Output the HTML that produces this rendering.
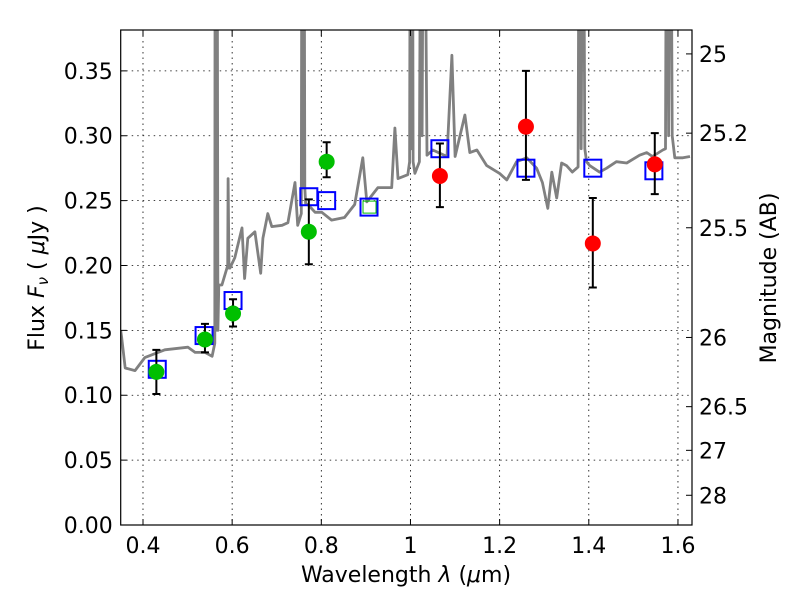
<!DOCTYPE html>
<html><head><meta charset="utf-8"><style>
html,body{margin:0;padding:0;background:#fff;}
svg{display:block;font-family:"DejaVu Sans","Liberation Sans",sans-serif;}
</style></head><body>
<svg id="chart" width="800" height="600" viewBox="0 0 800 600">
<rect width="800" height="600" fill="#fff"/>
<defs><clipPath id="clip"><rect x="120.7" y="30" width="571.3" height="495"/></clipPath></defs>
<g id="grid"></g>
<g id="plot" clip-path="url(#clip)"></g>
<rect x="120.7" y="30" width="571.3" height="495" fill="none" stroke="#000" stroke-width="1.2"/>
<g id="ticks"></g>
<text x="406" y="582" font-size="22" text-anchor="middle">Wavelength  <tspan font-style="italic">λ</tspan> (<tspan font-style="italic">μ</tspan>m)</text>
<text transform="translate(44,278) rotate(-90)" font-size="22" text-anchor="middle">Flux  <tspan font-style="italic">F<tspan font-size="15" dy="4">ν</tspan></tspan><tspan dy="-4">  ( </tspan><tspan font-style="italic">μ</tspan>Jy )</text>
<text transform="translate(776,278) rotate(-90)" font-size="22" text-anchor="middle">Magnitude (AB)</text>
</svg>
<script>
const xTicks=[0.4,0.6,0.8,1.0,1.2,1.4,1.6];
const xTickLabels=["0.4","0.6","0.8","1","1.2","1.4","1.6"];
const yTicks=[0,0.05,0.10,0.15,0.20,0.25,0.30,0.35];
const yTickLabels=["0.00","0.05","0.10","0.15","0.20","0.25","0.30","0.35"];
const magTicks=[25,25.2,25.5,26,26.5,27,28];
const magTickLabels=["25","25.2","25.5","26","26.5","27","28"];
const specWl=[0.350,0.352,0.360,0.382,0.404,0.449,0.501,0.517,0.539,0.555,0.561,0.562,0.564,0.566,0.568,0.570,0.577,0.590,0.591,0.593,0.595,0.606,0.622,0.628,0.635,0.651,0.664,0.669,0.680,0.689,0.712,0.725,0.741,0.747,0.755,0.757,0.759,0.761,0.763,0.765,0.770,0.786,0.801,0.823,0.852,0.875,0.893,0.902,0.927,0.958,0.965,0.972,0.994,0.998,1.000,1.002,1.004,1.006,1.010,1.020,1.024,1.026,1.030,1.037,1.050,1.082,1.093,1.100,1.122,1.133,1.149,1.171,1.200,1.216,1.238,1.261,1.283,1.296,1.308,1.317,1.328,1.339,1.350,1.363,1.376,1.379,1.383,1.387,1.391,1.395,1.402,1.424,1.440,1.462,1.485,1.514,1.530,1.543,1.566,1.572,1.575,1.579,1.583,1.587,1.593,1.611,1.627];
const specFlux=[0.150,0.145,0.121,0.119,0.129,0.135,0.137,0.133,0.133,0.130,0.140,0.6,0.15,0.6,0.15,0.185,0.185,0.200,0.267,0.198,0.198,0.206,0.229,0.190,0.221,0.226,0.194,0.221,0.240,0.230,0.231,0.233,0.264,0.231,0.240,0.6,0.26,0.6,0.26,0.247,0.247,0.241,0.241,0.235,0.237,0.247,0.283,0.249,0.260,0.260,0.306,0.267,0.270,0.280,0.6,0.29,0.6,0.28,0.271,0.280,0.6,0.30,0.6,0.285,0.289,0.284,0.362,0.284,0.316,0.287,0.289,0.277,0.271,0.266,0.280,0.283,0.275,0.264,0.244,0.272,0.252,0.279,0.277,0.272,0.276,0.6,0.29,0.6,0.29,0.28,0.277,0.272,0.275,0.280,0.279,0.285,0.287,0.284,0.289,0.290,0.6,0.30,0.6,0.30,0.283,0.283,0.284];
const greenWl=[0.430,0.539,0.602,0.772,0.812];
const greenFlux=[0.118,0.143,0.163,0.226,0.280];
const greenLo=[0.101,0.133,0.153,0.201,0.268];
const greenHi=[0.135,0.155,0.174,0.251,0.295];
const redWl=[1.066,1.259,1.409,1.548];
const redFlux=[0.269,0.307,0.217,0.278];
const redLo=[0.245,0.266,0.183,0.255];
const redHi=[0.294,0.350,0.252,0.302];
const modelWl=[0.432,0.537,0.602,0.772,0.812,0.907,1.066,1.259,1.409,1.546];
const modelFlux=[0.120,0.146,0.173,0.253,0.250,0.245,0.290,0.275,0.275,0.273];

const L=120.7,R=692,T=30,B=525,X0=0.35,X1=1.6315,Y0=0,Y1=0.3815;
const sx=v=>L+(v-X0)/(X1-X0)*(R-L);
const sy=v=>B-(v-Y0)/(Y1-Y0)*(B-T);
const magToFlux=m=>Math.pow(10,(23.9-m)/2.5);
const NS="http://www.w3.org/2000/svg";
function mk(tag,attrs,parent){const e=document.createElementNS(NS,tag);for(const k in attrs)e.setAttribute(k,attrs[k]);parent.appendChild(e);return e;}
const grid=document.getElementById('grid'),plot=document.getElementById('plot'),ticks=document.getElementById('ticks');

xTicks.forEach((v,i)=>{const x=sx(v);
 let g=mk('line',{x1:x,x2:x,y1:T,y2:B,stroke:'#000','stroke-width':0.8,'stroke-dasharray':'1.5,4'},grid);
 
 let t=mk('line',{x1:x,x2:x,y1:B,y2:B-6,stroke:'#000','stroke-width':1},ticks);
 
 let t2=mk('line',{x1:x,x2:x,y1:T,y2:T+6,stroke:'#000','stroke-width':1},ticks);
 
 let lb=mk('text',{x:x,y:B+28,'font-size':22,'text-anchor':'middle'},ticks);lb.textContent=xTickLabels[i];
 
});
yTicks.forEach((v,i)=>{const y=sy(v);
 let g=mk('line',{x1:L,x2:R,y1:y,y2:y,stroke:'#000','stroke-width':0.8,'stroke-dasharray':'1.5,4'},grid);
 
 let t=mk('line',{x1:L,x2:L+6,y1:y,y2:y,stroke:'#000','stroke-width':1},ticks);
 
 let lb=mk('text',{x:L-8,y:y+8,'font-size':22,'text-anchor':'end'},ticks);lb.textContent=yTickLabels[i];
 
});
magTicks.forEach((m,i)=>{const y=sy(magToFlux(m));
 let t=mk('line',{x1:R,x2:R-6,y1:y,y2:y,stroke:'#000','stroke-width':1},ticks);
 
 let lb=mk('text',{x:R+7,y:y+8,'font-size':22,'text-anchor':'start'},ticks);lb.textContent=magTickLabels[i];
 
});
let d=specWl.map((w,i)=>(i?'L':'M')+sx(w).toFixed(1)+','+sy(specFlux[i]).toFixed(1)).join('');
let sp=mk('path',{d:d,fill:'none',stroke:'#808080','stroke-width':2.8,'stroke-linejoin':'round'},plot);

modelWl.forEach((w,i)=>{const x=sx(w),y=sy(modelFlux[i]);
 let r=mk('rect',{x:x-8.5,y:y-8.5,width:17,height:17,fill:'none',stroke:'#0000ff','stroke-width':2},plot);
 
});
{const x=sx(modelWl[5]),y=sy(modelFlux[5]);
 let r=mk('rect',{x:x-6,y:y-6,width:13,height:12,fill:'none',stroke:'#00bb00','stroke-width':1},plot);
 }
function pts(wl,fl,lo,hi,col,name){wl.forEach((w,i)=>{const x=sx(w);
 let e=mk('path',{d:`M${x},${sy(lo[i])}V${sy(hi[i])}M${x-4},${sy(lo[i])}H${x+4}M${x-4},${sy(hi[i])}H${x+4}`,stroke:'#000','stroke-width':2,fill:'none'},plot);
 
 let c=mk('circle',{cx:x,cy:sy(fl[i]),r:8,fill:col},plot);
 
});}
pts(greenWl,greenFlux,greenLo,greenHi,'#00bf00','hst');
pts(redWl,redFlux,redLo,redHi,'#ff0000','ir');
</script>
</body></html>
